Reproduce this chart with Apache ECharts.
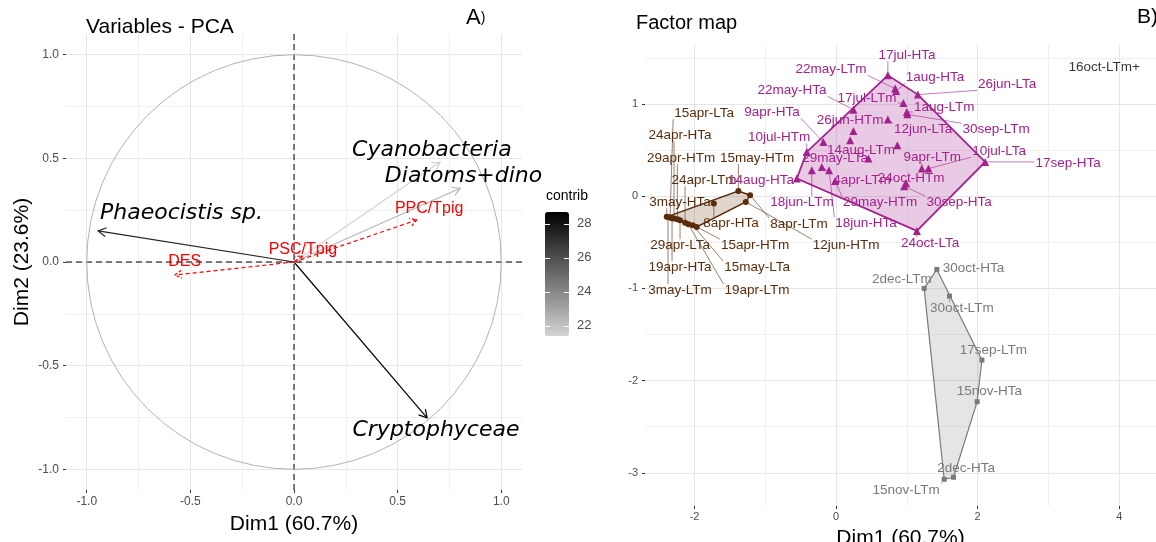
<!DOCTYPE html>
<html><head><meta charset="utf-8">
<script src="https://cdn.jsdelivr.net/npm/echarts@6/dist/echarts.min.js"></script>
<style>html,body{margin:0;padding:0;background:#fff}#c{width:1156px;height:542px}</style>
</head><body><div id="c"></div>
<script>
// ---------- Panel A: variables PCA ----------
const varNames = ['Phaeocistis sp.', 'Cryptophyceae', 'Cyanobacteria', 'Diatoms+dino'];
const varDim1 = [-0.945, 0.642, 0.705, 0.802];
const varDim2 = [0.150, -0.752, 0.482, 0.356];
const varContrib = [27.5, 28.7, 21.4, 22.4];
const varLabelDim1 = [-0.543, 0.685, 0.665, 0.818];
const varLabelDim2 = [0.237, -0.81, 0.541, 0.415];

const suppNames = ['PPC/Tpig', 'PSC/Tpig', 'DES'];
const suppDim1 = [0.593, 0.04, -0.575];
const suppDim2 = [0.203, 0.03, -0.063];
const suppLabelDim1 = [0.652, 0.043, -0.527];
const suppLabelDim2 = [0.256, 0.058, 0.0];

const ticksA = [-1.0, -0.5, 0.0, 0.5, 1.0];
const minorTicksA = [-0.75, -0.25, 0.25, 0.75];
const contribTicks = [22, 24, 26, 28];
const contribRange = [21.4, 28.7];

// ---------- Panel B: factor map ----------
const brownNames = ['15may-HTm','8apr-LTm','12jun-HTm','8apr-HTa','3may-HTa','3may-LTm','15apr-LTa','19apr-HTa','24apr-HTa','29apr-HTm','29apr-LTa','24apr-LTm','19apr-LTm','15may-LTa','15apr-HTm'];
const brownDim1 = [-1.381,-1.215,-1.276,-1.727,-2.393,-2.375,-2.346,-2.318,-2.290,-2.243,-2.205,-2.134,-2.088,-2.025,-1.969];
const brownDim2 = [0.057,0.011,-0.062,-0.079,-0.224,-0.228,-0.231,-0.238,-0.242,-0.249,-0.260,-0.289,-0.303,-0.314,-0.333];
const brownLabelDim1 = [-1.117,-0.523,0.141,-1.484,-2.205,-2.205,-1.866,-2.205,-2.205,-2.191,-2.205,-1.866,-1.117,-1.117,-1.145];
const brownLabelDim2 = [0.412,-0.303,-0.531,-0.293,-0.065,-1.018,0.899,-0.769,0.661,0.412,-0.531,0.173,-1.018,-0.769,-0.531];

const magentaNames = ['17jul-HTa','22may-LTm','1aug-HTa','26jun-LTa','17jul-LTm','1aug-LTm','30sep-LTm','12jun-LTa','22may-HTa','26jun-HTm','9apr-HTa','10jul-HTm','14aug-LTm','29may-LTa','14aug-HTa','4apr-LTm','24oct-HTm','9apr-LTm','10jul-LTa','17sep-HTa','30sep-HTa','24oct-LTa','18jun-LTm','29may-HTm','18jun-HTa',''];
const magentaDim1 = [0.731,0.834,0.848,1.155,0.951,0.999,1.008,0.731,0.245,0.245,-0.180,-0.414,0.866,0.457,-0.555,-0.202,0.989,1.211,1.305,2.106,0.961,1.141,-0.343,-0.014,-0.099,0.198];
const magentaDim2 = [1.311,1.167,1.141,1.102,1.011,0.913,0.888,0.831,0.939,0.707,0.588,0.480,0.553,0.408,0.192,0.317,0.141,0.300,0.300,0.372,0.108,-0.376,0.282,0.166,0.282,0.607];
const magentaLabelDim1 = [1.003,-0.071,1.399,2.417,0.438,1.527,2.261,1.230,-0.622,0.198,-0.905,-0.806,0.353,-0.014,-1.060,0.367,1.060,1.357,2.304,3.279,1.739,1.329,-0.481,0.622,0.424,0];
const magentaLabelDim2 = [1.528,1.376,1.289,1.213,1.062,0.964,0.726,0.726,1.148,0.823,0.910,0.639,0.498,0.412,0.173,0.173,0.195,0.423,0.488,0.358,-0.065,-0.509,-0.065,-0.065,-0.293,0];

const grayNames = ['30oct-HTa','2dec-LTm','30oct-LTm','17sep-LTm','15nov-HTa','2dec-HTa','15nov-LTm'];
const grayDim1 = [1.423,1.244,1.602,2.060,1.993,1.659,1.527];
const grayDim2 = [-0.794,-1.000,-1.083,-1.777,-2.229,-3.048,-3.070];
const grayLabelDim1 = [1.941,0.929,1.777,2.223,2.167,1.837,0.989];
const grayLabelDim2 = [-0.783,-0.902,-1.217,-1.668,-2.120,-2.950,-3.185];

const otherNames = ['16oct-LTm+'];
const otherDim1 = [3.788];
const otherDim2 = [1.398];

const ticksBx = [-2, 0, 2, 4];
const minorTicksBx = [-1, 1, 3];
const ticksBy = [-3, -2, -1, 0, 1];
const minorTicksBy = [-2.5, -1.5, -0.5, 0.5, 1.5];

// ---------- styling ----------
const NARROW = "'Liberation Sans Narrow','Arial Narrow','Liberation Sans',sans-serif";
const SANS = "'Liberation Sans',Arial,sans-serif";
const LABEL_FONT = "13.5px 'Liberation Sans', Arial, sans-serif";
const GRID_MAJOR = '#e6e6e6';
const GRID_MINOR = '#f0f0f0';

const measureCtx = document.createElement('canvas').getContext('2d');
function textWidth(t, font) { measureCtx.font = font; return measureCtx.measureText(t).width; }

function convexHull(pts) {
  const p = pts.slice().sort((a, b) => a[0] - b[0] || a[1] - b[1]);
  const cross = (o, a, b) => (a[0]-o[0])*(b[1]-o[1]) - (a[1]-o[1])*(b[0]-o[0]);
  const lower = [];
  for (const q of p) { while (lower.length >= 2 && cross(lower[lower.length-2], lower[lower.length-1], q) <= 0) lower.pop(); lower.push(q); }
  const upper = [];
  for (let i = p.length - 1; i >= 0; i--) { const q = p[i]; while (upper.length >= 2 && cross(upper[upper.length-2], upper[upper.length-1], q) <= 0) upper.pop(); upper.push(q); }
  upper.pop(); lower.pop();
  return lower.concat(upper);
}

function arrowHead(o, t, len) {
  const ang = Math.atan2(t[1]-o[1], t[0]-o[0]);
  const a1 = ang + Math.PI - Math.PI/6, a2 = ang + Math.PI + Math.PI/6;
  return [[t[0]+len*Math.cos(a1), t[1]+len*Math.sin(a1)], [t[0], t[1]], [t[0]+len*Math.cos(a2), t[1]+len*Math.sin(a2)]];
}

function axisPair(gridIndex, min, max, major, minor, fmt, fontSize, margin, extra) {
  const majorAxis = Object.assign({
    type: 'value', gridIndex, min, max,
    axisLine: { show: false, onZero: false },
    axisTick: { show: true, customValues: major, length: 3, lineStyle: { color: '#333', width: 1 } },
    axisLabel: { customValues: major, formatter: fmt, color: '#4d4d4d', fontSize, fontFamily: NARROW, margin },
    splitLine: { show: true, lineStyle: { color: GRID_MAJOR, width: 1 } }
  }, extra || {});
  const minorAxis = {
    type: 'value', gridIndex, min, max,
    axisLine: { show: false, onZero: false },
    axisTick: { show: false, customValues: minor },
    axisLabel: { show: false },
    splitLine: { show: true, lineStyle: { color: GRID_MINOR, width: 1 } }
  };
  return [majorAxis, minorAxis];
}

const fmt1 = v => v.toFixed(1);
const fmt0 = v => String(Math.round(v));
const NAME_STYLE = { fontSize: 21, fontFamily: NARROW, color: '#000' };

const xA = axisPair(0, -1.1, 1.1, ticksA, minorTicksA, fmt1, 12, 6,
  { name: 'Dim1 (60.7%)', nameLocation: 'middle', nameGap: 24, nameTextStyle: NAME_STYLE });
const yA = axisPair(0, -1.1, 1.1, ticksA, minorTicksA, fmt1, 12, 7,
  { name: 'Dim2 (23.6%)', nameLocation: 'middle', nameGap: 33, nameRotate: 90, nameTextStyle: NAME_STYLE });
const xB = axisPair(1, -2.70, 4.52, ticksBx, minorTicksBx, fmt0, 11, 5,
  { name: 'Dim1 (60.7%)', nameLocation: 'middle', nameGap: 22, nameTextStyle: NAME_STYLE });
const yB = axisPair(1, -3.36, 1.64, ticksBy, minorTicksBy, fmt0, 11, 7);

const xAxes = [xA[0], xA[1], xB[0], xB[1], { type: 'value', gridIndex: 2, show: false, min: 0, max: 1 }];
const yAxes = [yA[0], yA[1], yB[0], yB[1],
  { type: 'value', gridIndex: 2, min: contribRange[0], max: contribRange[1], position: 'right', z: 10,
    axisLine: { show: false, onZero: false }, splitLine: { show: false },
    axisTick: { show: true, inside: true, length: 5, customValues: contribTicks, lineStyle: { color: '#ffffff', width: 1 } },
    axisLabel: { customValues: contribTicks, color: '#4d4d4d', fontSize: 13, fontFamily: SANS, margin: 8 } },
  { type: 'value', gridIndex: 2, min: contribRange[0], max: contribRange[1], position: 'left', z: 10,
    axisLine: { show: false, onZero: false }, splitLine: { show: false }, axisLabel: { show: false },
    axisTick: { show: true, inside: true, length: 5, customValues: contribTicks, lineStyle: { color: '#ffffff', width: 1 } } }
];

const series = [];
// zero reference lines
series.push({
  type: 'custom', xAxisIndex: 0, yAxisIndex: 0, silent: true, data: [[0, 0]],
  renderItem: (params, api) => {
    const c = api.coord([0, 0]); const cs = params.coordSys;
    const st = { stroke: '#000', lineWidth: 1, lineDash: [6, 4] };
    return { type: 'group', children: [
      { type: 'line', shape: { x1: cs.x, y1: c[1], x2: cs.x + cs.width, y2: c[1] }, style: st },
      { type: 'line', shape: { x1: c[0], y1: cs.y, x2: c[0], y2: cs.y + cs.height }, style: st }
    ] };
  }
});
// correlation circle
series.push({
  type: 'custom', xAxisIndex: 0, yAxisIndex: 0, silent: true, data: [[0, 0]],
  renderItem: (params, api) => {
    const c = api.coord([0, 0]); const r = api.size([1, 1])[0];
    return { type: 'circle', shape: { cx: c[0], cy: c[1], r }, style: { fill: 'none', stroke: '#b3b3b3', lineWidth: 1 } };
  }
});
// active variable arrows (coloured by contrib via visualMap)
const ARROW_SERIES = series.length;
series.push({
  type: 'custom', xAxisIndex: 0, yAxisIndex: 0, silent: true,
  dimensions: ['dim1', 'dim2', 'contrib'], encode: { x: 0, y: 1 },
  data: varDim1.map((x, i) => [x, varDim2[i], varContrib[i]]),
  renderItem: (params, api) => {
    const o = api.coord([0, 0]); const t = api.coord([api.value(0), api.value(1)]);
    const col = api.visual('color');
    const st = { stroke: col, lineWidth: 1.2, fill: 'none' };
    return { type: 'group', children: [
      { type: 'line', shape: { x1: o[0], y1: o[1], x2: t[0], y2: t[1] }, style: st },
      { type: 'polyline', shape: { points: arrowHead(o, t, 9) }, style: st }
    ] };
  }
});
// active variable labels
series.push({
  type: 'custom', xAxisIndex: 0, yAxisIndex: 0, silent: true,
  data: varLabelDim1.map((x, i) => [x, varLabelDim2[i]]),
  renderItem: (params, api) => {
    const p = api.coord([api.value(0), api.value(1)]);
    return { type: 'text', style: { text: varNames[params.dataIndex], x: p[0], y: p[1], align: 'center', verticalAlign: 'middle',
      fill: '#000', font: "italic 22px 'DejaVu Sans', Verdana, sans-serif" } };
  }
});
// supplementary variables
series.push({
  type: 'custom', xAxisIndex: 0, yAxisIndex: 0, silent: true,
  data: suppDim1.map((x, i) => [x, suppDim2[i], suppLabelDim1[i], suppLabelDim2[i]]),
  renderItem: (params, api) => {
    const o = api.coord([0, 0]); const t = api.coord([api.value(0), api.value(1)]);
    const l = api.coord([api.value(2), api.value(3)]);
    const st = { stroke: '#ff0000', lineWidth: 1.2, fill: 'none', lineDash: [4, 3] };
    return { type: 'group', children: [
      { type: 'line', shape: { x1: o[0], y1: o[1], x2: t[0], y2: t[1] }, style: st },
      { type: 'polyline', shape: { points: arrowHead(o, t, 8) }, style: { stroke: '#ff0000', lineWidth: 1.2, fill: 'none', lineDash: [3, 2] } },
      { type: 'text', style: { text: suppNames[params.dataIndex], x: l[0], y: l[1], align: 'center', verticalAlign: 'middle', fill: '#ff0000', font: "16px 'Liberation Sans', Arial, sans-serif" } }
    ] };
  }
});

// Panel B groups
const groups = [
  { names: brownNames, d1: brownDim1, d2: brownDim2, l1: brownLabelDim1, l2: brownLabelDim2, color: '#5a2c0c', fill: 'rgba(120,70,30,0.22)', lw: 1.5, symbol: 'circle', size: 6 },
  { names: magentaNames, d1: magentaDim1, d2: magentaDim2, l1: magentaLabelDim1, l2: magentaLabelDim2, color: '#a3218d', fill: 'rgba(175,60,155,0.27)', lw: 1.8, symbol: 'triangle', size: 8 },
  { names: grayNames, d1: grayDim1, d2: grayDim2, l1: grayLabelDim1, l2: grayLabelDim2, color: '#7a7a7a', fill: 'rgba(150,150,150,0.25)', lw: 1.2, symbol: 'rect', size: 5 }
];
groups.forEach(g => {
  series.push({
    type: 'custom', xAxisIndex: 2, yAxisIndex: 2, silent: true, data: [[g.d1[0], g.d2[0]]],
    renderItem: (params, api) => {
      const pts = g.d1.map((x, i) => api.coord([x, g.d2[i]]));
      return { type: 'polygon', shape: { points: convexHull(pts) }, style: { fill: g.fill, stroke: g.color, lineWidth: g.lw } };
    }
  });
});
groups.forEach(g => {
  series.push({
    type: 'scatter', xAxisIndex: 2, yAxisIndex: 2, silent: true, symbol: g.symbol, symbolSize: g.size,
    itemStyle: { color: g.color, opacity: 1 },
    data: g.d1.map((x, i) => [x, g.d2[i]])
  });
});
groups.forEach(g => {
  series.push({
    type: 'custom', xAxisIndex: 2, yAxisIndex: 2, silent: true,
    data: g.d1.map((x, i) => [x, g.d2[i], g.l1[i], g.l2[i]]),
    renderItem: (params, api) => {
      const name = g.names[params.dataIndex];
      if (!name) return null;
      const p = api.coord([api.value(0), api.value(1)]);
      const l = api.coord([api.value(2), api.value(3)]);
      const w = textWidth(name, LABEL_FONT), h = 12;
      const x0 = l[0] - w/2 - 1, x1 = l[0] + w/2 + 1, y0 = l[1] - h/2, y1 = l[1] + h/2;
      const cx = Math.max(x0, Math.min(p[0], x1)), cy = Math.max(y0, Math.min(p[1], y1));
      const d = Math.hypot(p[0] - cx, p[1] - cy);
      const children = [];
      if (d > 5) children.push({ type: 'line', shape: { x1: p[0], y1: p[1], x2: cx, y2: cy }, style: { stroke: g.color, lineWidth: 0.6 } });
      children.push({ type: 'text', style: { text: name, x: l[0], y: l[1], align: 'center', verticalAlign: 'middle', fill: g.color, font: LABEL_FONT } });
      return { type: 'group', children };
    }
  });
});
series.push({
  type: 'scatter', xAxisIndex: 2, yAxisIndex: 2, silent: true, symbolSize: 0,
  data: otherDim1.map((x, i) => ({ value: [x, otherDim2[i]], name: otherNames[i] })),
  label: { show: true, position: 'inside', formatter: p => p.name, color: '#000', fontSize: 13.5, fontFamily: SANS }
});

const option = {
  animation: false,
  backgroundColor: '#ffffff',
  title: [
    { text: 'Variables - PCA', left: 86, top: 17, padding: 0, textStyle: { fontSize: 21, fontWeight: 'normal', fontFamily: NARROW, color: '#000' } },
    { text: '{a|A}{b|)}', left: 466, top: 7, padding: 0, textStyle: { rich: { a: { fontSize: 22, fontWeight: 'normal', fontFamily: SANS, color: '#000' }, b: { fontSize: 14, fontWeight: 'normal', fontFamily: SANS, color: '#000' } } } },
    { text: 'Factor map', left: 636, top: 13, padding: 0, textStyle: { fontSize: 20, fontWeight: 'normal', fontFamily: NARROW, color: '#000' } },
    { text: 'B)', left: 1137, top: 7, padding: 0, textStyle: { fontSize: 21, fontWeight: 'normal', fontFamily: SANS, color: '#000' } },
    { text: 'contrib', left: 546, top: 189, padding: 0, textStyle: { fontSize: 14, fontWeight: 'normal', fontFamily: SANS, color: '#000' } }
  ],
  grid: [
    { left: 66, top: 34, width: 456, height: 456, outerBoundsMode: 'none' },
    { left: 645, top: 45, width: 511, height: 461, outerBoundsMode: 'none' },
    { left: 545, top: 212, width: 24, height: 124, outerBoundsMode: 'none' }
  ],
  xAxis: xAxes,
  yAxis: yAxes,
  visualMap: [{
    type: 'continuous', min: contribRange[0], max: contribRange[1], dimension: 2, seriesIndex: ARROW_SERIES,
    inRange: { color: ['#d4d4d4', '#8c8c8c', '#474747', '#000000'] },
    left: 545, top: 212, itemWidth: 24, itemHeight: 124, padding: 0, calculable: false, hoverLink: false,
    orient: 'vertical', text: null, showLabel: false
  }],
  series
};
echarts.init(document.getElementById('c')).setOption(option);
</script></body></html>
